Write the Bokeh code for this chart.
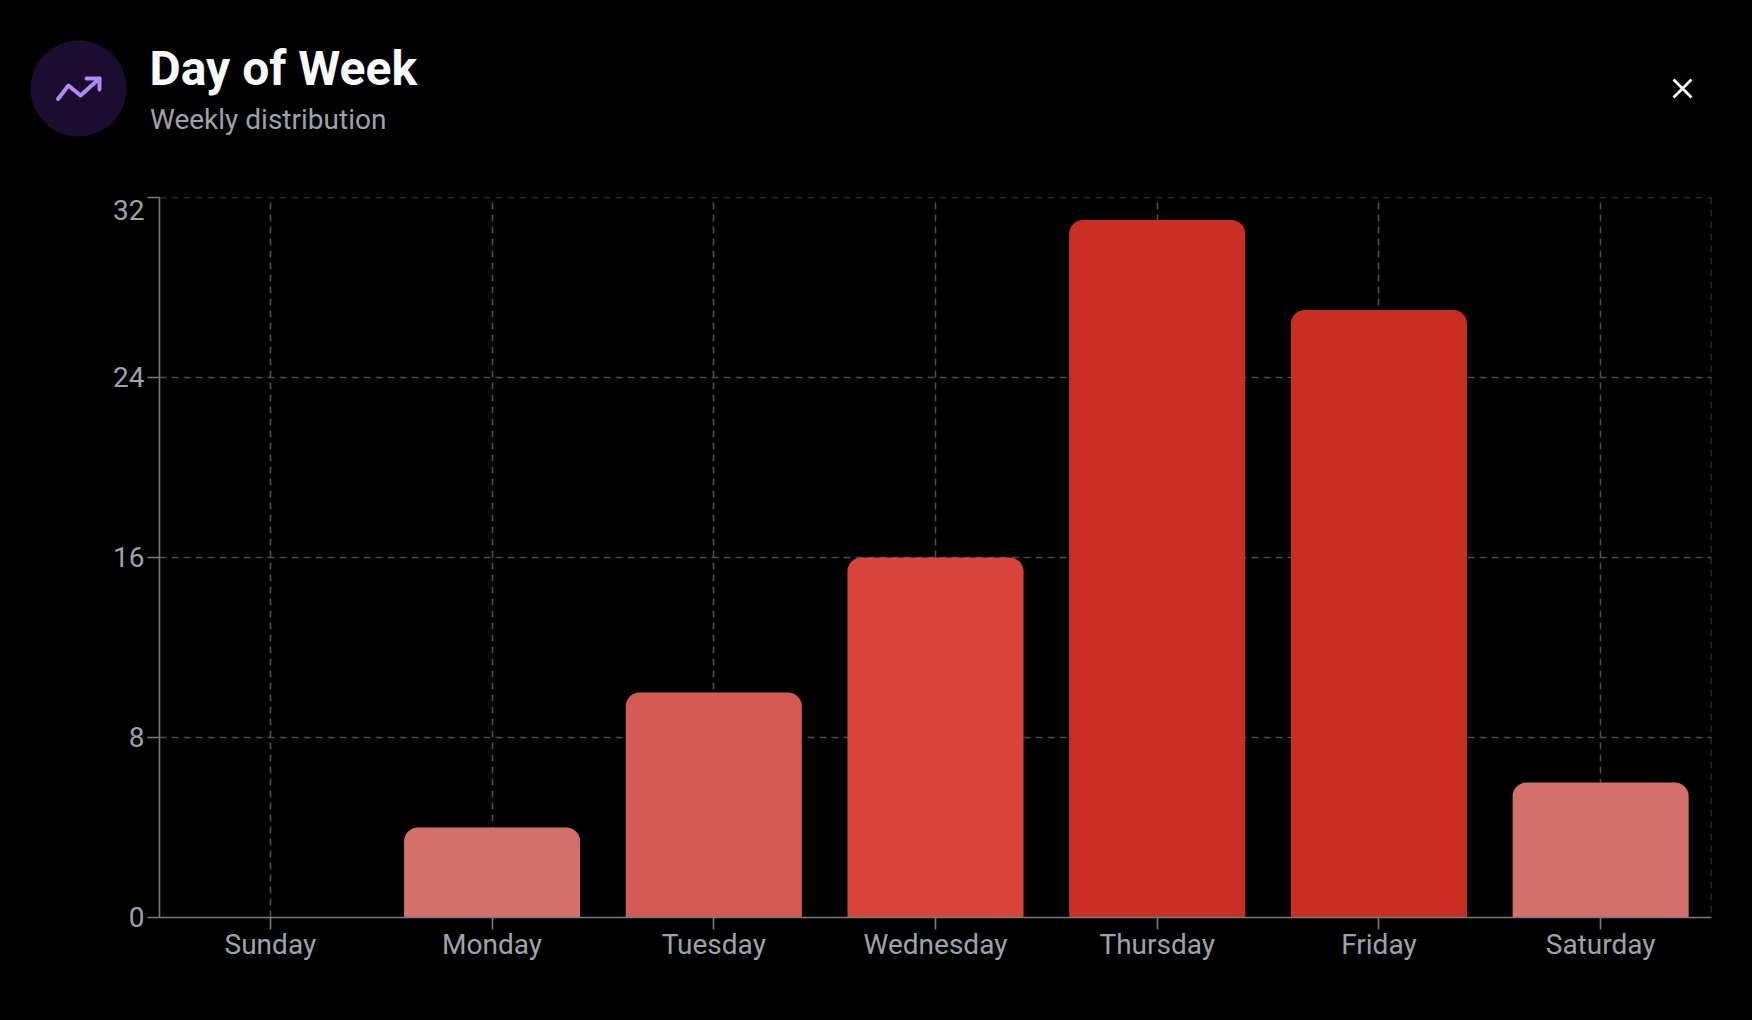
from bokeh.plotting import figure
from bokeh.models import FactorRange, Range1d, FixedTicker, Span
from bokeh.core.properties import value
from bokeh.embed import file_html
from bokeh.resources import INLINE

days = ["Sunday", "Monday", "Tuesday", "Wednesday", "Thursday", "Friday", "Saturday"]
counts = [0, 4, 10, 16, 31, 27, 6]
bar_colors = ["#d4706c", "#d4706c", "#d45a54", "#d8443a", "#c93023", "#c92f20", "#d4706c"]
y_ticks = [0, 8, 16, 24]
top_tick = 32

BG = "#000000"
LABEL = "#9ea2ac"
GRID = "#4d4d4d"
AXIS = "#7a7a7a"
TICK_FONT = "28px"
W = 1736

# header
h = figure(width=W, height=180, x_range=Range1d(0, W), y_range=Range1d(180, 0),
           output_backend="svg", toolbar_location=None, background_fill_color=BG,
           border_fill_color=BG, outline_line_color=None, min_border=0,
           x_axis_location=None, y_axis_location=None)
h.grid.visible = False
h.scatter([70], [80], size=96, marker="circle", fill_color="#1b0c30", line_color=None)
h.line([49.5, 60, 72, 91], [90.5, 77, 87, 70], line_color="#b388f5", line_width=4,
       line_cap="round", line_join="round")
h.line([78, 91, 91], [70, 70, 81], line_color="#b388f5", line_width=4,
       line_cap="round", line_join="round")
h.text([141], [60], text=["Day of Week"], text_font=value("Roboto"), text_font_style="bold",
       text_font_size="48px", text_color="#f9fafb", text_baseline="alphabetic")
h.text([141.5], [111], text=["Weekly distribution"], text_font=value("Roboto"),
       text_font_size="28px", text_color=LABEL, text_baseline="alphabetic")
h.segment([1665, 1665], [71, 89], [1683, 1683], [89, 71], line_color="#ffffff", line_width=2.6)

# chart
p = figure(width=W, height=1004 - 180, x_range=FactorRange(*days), y_range=Range1d(0, top_tick),
           output_backend="svg", toolbar_location=None, background_fill_color=BG,
           border_fill_color=BG, outline_line_color=None,
           min_border_left=151, min_border_right=33, min_border_top=9, min_border_bottom=95)
p.vbar(x=days, top=counts, width=0.794, fill_color=bar_colors, line_color=None,
       border_radius=(14, 14, 0, 0))

for ax in (p.xaxis[0], p.yaxis[0]):
    ax.axis_line_color = AXIS
    ax.axis_line_width = 1.6
    ax.major_tick_line_color = AXIS
    ax.major_tick_line_width = 1.6
    ax.major_tick_in = 0
    ax.major_tick_out = 12
    ax.minor_tick_line_color = None
    ax.major_label_text_font = "Roboto"
    ax.major_label_text_font_size = TICK_FONT
    ax.major_label_text_color = LABEL
p.xaxis[0].major_label_standoff = -2
p.yaxis[0].major_label_standoff = 3
p.yaxis[0].major_label_text_line_height = 0.17
p.yaxis[0].ticker = FixedTicker(ticks=y_ticks + [top_tick])
p.yaxis[0].major_label_overrides = {top_tick: "\n" + str(top_tick)}

p.ygrid[0].ticker = FixedTicker(ticks=y_ticks)
for g in (p.xgrid[0], p.ygrid[0]):
    g.grid_line_color = GRID
    g.grid_line_width = 1.6
    g.grid_line_dash = "7 5"
p.add_layout(Span(location=7, dimension="height", line_color=GRID, line_width=1.6,
                  line_dash="7 5", level="underlay"))
p.add_layout(Span(location=top_tick, dimension="width", line_color=GRID, line_width=1.6,
                  line_dash="7 5", level="underlay"))

html = file_html([h, p], INLINE)
html = html.replace("</head>",
                    "<style>html,body{background:#000;}"
                    "body{margin:8px!important;height:auto!important;}</style></head>")
open("out.html", "w").write(html)
